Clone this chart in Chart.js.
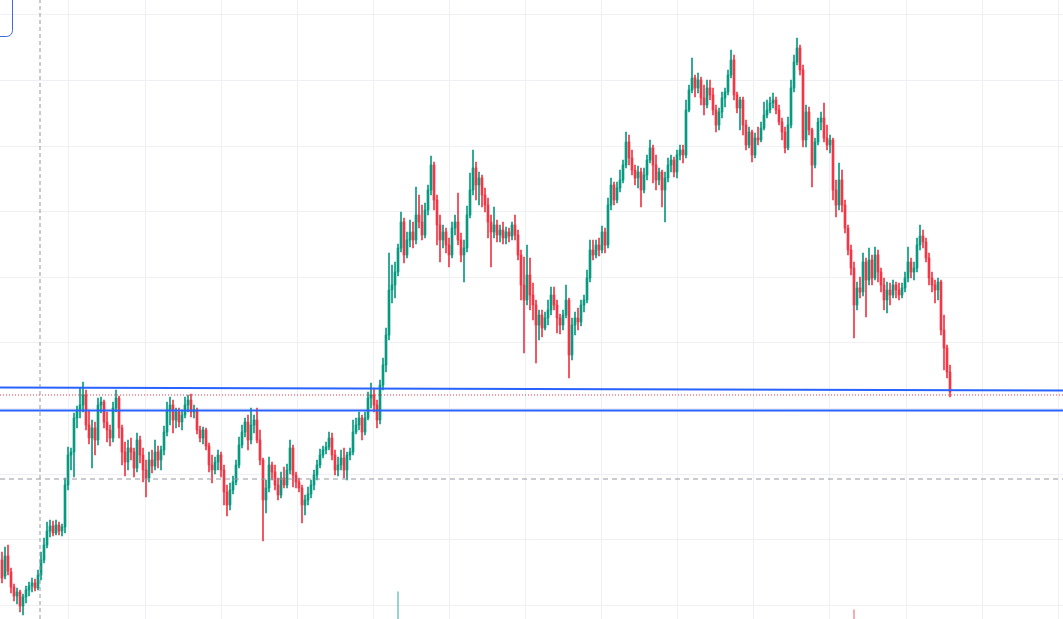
<!DOCTYPE html>
<html><head><meta charset="utf-8">
<script src="https://cdn.jsdelivr.net/npm/chart.js@4.4.1/dist/chart.umd.min.js"></script>
<style>html,body{margin:0;padding:0;background:#fff;overflow:hidden}#wrap{width:1063px;height:619px;position:relative}</style>
</head><body><div id="wrap"><canvas id="c"></canvas></div>
<script>
const open=[6.0,4.4,6.4,4.8,3.3,2.4,2.8,1.4,2.3,3.0,3.4,3.7,3.2,4.5,6.0,7.5,8.9,9.4,8.7,9.5,8.9,9.3,13.5,16.5,16.8,20.2,21.0,21.5,22.5,19.5,18.2,19.2,18.0,21.5,21.8,19.8,19.0,18.2,21.2,22.2,19.2,16.8,15.8,17.2,16.8,15.2,18.0,16.5,15.0,14.2,16.0,15.4,16.8,16.0,17.0,18.8,21.0,21.5,20.0,20.8,19.8,20.5,21.5,22.0,20.8,21.0,19.0,18.2,19.0,17.4,15.5,15.0,15.8,16.5,15.0,12.8,11.5,13.0,13.8,15.5,17.5,18.8,19.8,18.0,19.5,20.0,18.0,16.0,12.0,13.2,15.5,14.8,13.5,12.5,14.2,13.5,15.0,17.2,14.5,13.8,13.2,11.5,12.0,12.6,13.5,14.5,15.5,16.5,17.0,17.3,18.2,16.5,15.0,15.5,16.2,15.0,16.5,16.8,18.8,19.5,20.2,18.8,20.2,22.2,22.5,21.5,20.0,23.5,25.5,28.5,33.0,33.5,34.8,37.2,39.8,36.5,38.0,38.8,38.0,40.5,39.8,38.5,41.0,43.0,45.5,42.0,39.5,38.0,38.8,37.5,36.5,39.2,39.8,38.0,36.5,37.2,40.5,43.0,45.2,43.5,44.2,42.5,41.5,39.8,38.8,39.5,38.5,39.0,38.2,38.8,38.4,39.5,38.5,36.5,33.5,32.0,34.5,32.5,31.5,29.5,30.5,29.2,30.2,31.0,32.5,31.5,30.2,29.5,30.5,32.0,26.5,29.5,30.2,29.8,31.5,32.0,34.2,37.0,36.5,37.5,37.0,38.8,37.5,41.5,43.5,42.0,43.2,44.0,45.5,47.8,46.2,45.0,44.2,44.8,43.0,44.5,46.0,47.2,45.5,44.0,44.8,43.0,44.2,45.5,46.0,44.8,46.5,47.0,46.5,51.0,53.0,54.2,53.2,54.0,52.2,51.5,53.2,52.5,51.0,49.5,50.8,52.2,52.8,54.5,56.0,52.5,51.2,52.0,49.5,47.5,48.8,46.5,48.2,48.0,49.2,50.5,51.0,51.7,52.0,51.0,49.8,48.8,47.2,49.5,53.2,55.8,57.2,55.0,48.0,50.8,49.0,45.5,47.8,49.8,50.2,48.2,47.5,48.0,43.0,41.5,44.0,41.5,39.2,37.0,35.2,31.5,33.2,32.8,35.8,34.0,36.0,34.2,36.5,34.8,33.5,32.0,33.0,32.5,33.5,33.0,32.5,33.2,34.2,35.8,34.8,35.2,37.5,38.4,37.8,36.2,34.2,33.5,33.0,33.8,29.0,27.2,24.8];
const close=[4.2,6.4,4.9,3.3,2.4,2.8,1.4,2.3,3.0,3.4,3.7,3.2,4.5,6.0,7.5,8.9,9.4,8.7,9.5,8.9,9.3,13.5,16.5,16.8,20.2,21.0,21.5,22.5,19.5,18.2,19.2,18.0,21.5,21.8,19.8,19.0,18.2,21.2,22.2,19.2,16.8,15.8,17.2,16.8,15.2,18.0,16.5,15.0,14.2,16.0,15.4,16.8,16.0,17.0,18.8,21.0,21.5,20.0,20.8,19.8,20.5,21.5,22.0,20.8,21.0,19.0,18.2,19.0,17.4,15.5,15.0,15.8,16.5,15.0,12.8,11.5,13.0,13.8,15.5,17.5,18.8,19.8,18.0,19.5,20.0,18.0,16.0,12.0,13.2,15.5,14.8,13.5,12.5,14.2,13.5,15.0,17.2,14.5,13.8,13.2,11.5,12.0,12.6,13.5,14.5,15.5,16.5,17.0,17.3,18.2,16.5,15.0,15.5,16.2,15.0,16.5,16.8,18.8,19.5,20.2,18.8,20.2,22.2,22.5,21.5,20.0,23.5,25.5,28.5,33.0,33.5,34.8,37.2,39.8,36.5,38.0,38.8,38.0,40.5,39.8,38.5,41.0,43.0,45.5,42.0,39.5,38.0,38.8,37.5,36.5,39.2,39.8,38.0,36.5,37.2,40.5,43.0,45.2,43.5,44.2,42.5,41.5,39.8,38.8,39.5,38.5,39.0,38.2,38.8,38.4,39.5,38.5,36.5,33.5,32.0,34.5,32.5,31.5,29.5,30.5,29.2,30.2,31.0,32.5,31.5,30.2,29.5,30.5,32.0,26.5,29.5,30.2,29.8,31.5,32.0,34.2,37.0,36.5,37.5,37.0,38.8,37.5,41.5,43.5,42.0,43.2,44.0,45.5,47.8,46.2,45.0,44.2,44.8,43.0,44.5,46.0,47.2,45.5,44.0,44.8,43.0,44.2,45.5,46.0,44.8,46.5,47.0,46.5,51.0,53.0,54.2,53.2,54.0,52.2,51.5,53.2,52.5,51.0,49.5,50.8,52.2,52.8,54.5,56.0,52.5,51.2,52.0,49.5,47.5,48.8,46.5,48.2,48.0,49.2,50.5,51.0,51.7,52.0,51.0,49.8,48.8,47.2,49.5,53.2,55.8,57.2,55.0,48.0,50.8,49.0,45.5,47.8,49.8,50.2,48.2,47.5,48.0,43.0,41.5,44.0,41.5,39.2,37.0,35.2,31.5,33.2,32.8,35.8,34.0,36.0,34.2,36.5,34.8,33.5,32.0,33.0,32.5,33.5,33.0,32.5,33.2,34.2,35.8,34.8,35.2,37.5,38.4,37.8,36.2,34.2,33.5,33.0,33.8,29.0,27.2,24.8,22.8];
const high=[6.8,7.3,7.5,5.2,3.6,3.2,3.0,2.6,3.4,3.8,4.2,4.1,5.0,6.8,8.2,9.8,10.0,9.9,10.0,9.8,9.6,14.2,17.3,17.2,20.7,21.4,23.2,23.8,23.0,21.0,20.0,19.8,22.2,22.3,22.0,20.8,19.5,21.8,23.0,22.4,19.5,17.8,18.0,18.2,17.2,18.7,18.4,17.2,16.0,16.8,17.0,18.0,17.4,17.4,19.4,21.8,22.3,22.0,21.2,21.2,21.0,22.3,22.5,22.6,21.5,21.2,19.4,19.3,19.2,17.7,16.5,16.3,17.0,16.8,15.5,13.5,13.7,14.4,16.0,18.3,19.5,20.2,20.5,21.2,20.5,21.2,19.0,16.2,14.0,16.3,15.8,15.5,14.2,14.8,15.3,15.6,18.0,17.5,14.8,14.2,13.5,12.5,13.3,14.0,15.0,16.0,17.1,17.4,17.8,18.8,18.7,17.0,16.3,17.0,17.2,16.8,17.2,20.0,20.2,20.8,20.5,20.8,22.8,23.7,23.2,22.0,24.0,26.2,29.2,36.7,35.5,35.8,37.6,40.8,40.2,38.8,40.0,39.8,43.3,42.5,41.5,41.7,43.5,46.4,45.8,42.5,40.5,39.5,39.2,38.2,39.8,40.5,42.7,38.7,38.0,41.4,44.7,47.0,45.8,44.8,44.5,43.2,42.2,40.5,41.3,40.0,39.5,39.8,39.3,39.2,39.8,40.5,39.0,37.0,36.3,37.5,36.2,33.7,32.0,31.0,31.0,30.8,32.0,33.3,33.3,32.0,30.6,31.0,33.5,32.2,30.2,30.8,31.2,32.0,32.5,35.0,38.0,38.0,38.0,38.2,39.4,39.2,42.2,44.2,43.8,43.8,45.0,46.0,48.8,48.5,47.0,45.5,45.4,45.2,45.2,46.5,48.0,47.5,46.5,45.2,45.0,44.8,46.2,46.5,46.3,47.0,47.5,47.5,52.0,53.5,56.2,54.5,54.7,54.3,53.5,54.0,54.0,53.2,51.5,51.2,52.8,53.2,55.0,57.0,56.5,52.8,52.3,52.3,50.0,49.3,49.0,48.7,49.3,49.8,51.8,52.0,52.3,52.7,52.3,51.5,50.2,49.3,50.3,54.0,56.5,58.2,57.5,55.5,51.5,51.3,49.2,48.2,50.2,50.8,51.7,49.5,48.5,48.2,44.0,45.7,45.0,42.0,39.5,37.5,35.8,33.8,34.3,36.7,36.2,37.2,36.5,37.3,37.0,35.2,34.2,33.8,33.7,34.0,33.8,33.7,33.7,34.8,37.3,36.2,35.8,38.2,39.5,39.0,38.2,36.7,34.8,34.0,34.2,34.0,30.5,27.5,25.5];
const low=[3.7,4.1,4.5,2.7,1.9,1.6,0.8,0.5,1.7,2.4,2.8,2.9,3.0,4.0,5.7,7.2,8.3,8.4,8.5,8.5,8.4,8.7,13.0,15.0,14.3,19.2,20.2,20.8,19.0,17.6,15.2,16.5,17.5,20.7,19.2,17.8,17.4,17.8,20.8,18.2,15.5,14.4,15.0,16.0,14.3,14.8,15.7,13.8,12.3,13.8,14.7,15.0,15.2,15.0,16.5,18.4,19.5,18.7,19.2,19.3,19.0,20.2,20.8,20.3,20.2,18.6,17.8,17.6,17.0,14.8,13.7,14.6,15.0,14.3,11.5,10.4,11.0,12.6,13.5,15.2,17.2,18.3,17.0,17.6,18.7,17.7,15.5,7.9,10.7,12.8,14.0,13.0,12.0,12.2,13.2,13.2,14.6,13.3,13.2,12.8,9.7,10.5,11.5,12.2,13.0,14.0,15.2,16.2,16.6,17.0,16.0,14.5,14.4,15.0,14.2,14.0,16.0,16.5,18.6,19.0,18.0,18.5,20.0,21.2,20.8,19.2,19.6,23.0,24.8,28.0,31.7,32.2,34.4,36.8,35.7,36.2,37.3,37.2,37.6,39.2,38.0,38.2,40.5,42.5,41.0,37.5,35.8,37.2,36.7,35.3,36.2,38.5,37.5,35.8,33.8,36.8,40.2,42.5,42.0,41.5,41.3,40.8,38.2,35.3,38.2,37.8,37.8,37.6,37.6,37.8,38.0,38.0,36.0,32.0,26.7,31.5,31.0,30.0,25.7,28.0,28.3,29.0,29.5,30.5,31.0,28.7,28.6,29.0,30.2,24.2,26.0,28.5,29.0,29.4,30.8,31.7,33.8,36.0,36.2,36.4,36.7,36.7,37.2,41.0,41.5,41.7,42.8,43.7,45.2,45.5,44.5,43.5,43.2,41.3,42.7,44.0,45.7,43.7,43.0,43.5,41.3,39.8,43.8,44.8,44.3,44.2,46.0,45.7,46.2,50.8,52.7,52.3,52.7,51.5,50.5,51.2,52.0,50.5,48.8,49.0,50.2,51.3,52.5,54.2,52.0,50.7,49.0,48.5,47.0,47.2,45.8,46.2,47.5,47.8,49.0,50.2,50.7,51.2,50.6,49.5,48.0,46.7,47.0,49.2,52.8,55.5,54.5,47.3,47.3,48.5,43.3,45.2,47.5,49.0,47.8,47.0,46.7,42.0,40.3,41.0,40.8,38.7,36.5,34.5,28.2,31.0,32.2,32.4,30.3,33.5,33.5,34.0,33.8,32.8,31.0,30.7,31.5,32.2,32.2,32.0,32.2,32.8,33.8,34.2,34.0,34.8,37.0,37.2,35.8,33.5,32.8,31.7,32.0,28.5,25.0,24.2,22.3];

// horizontal grid prices and vertical grid positions (bar index units)
const gridPrices=[60.6,54.0,47.4,40.9,34.3,27.8,21.2,14.6,8.1,1.5];
const gridBars=[22.33,47.7,73.07,98.43,123.8,149.17,174.53,199.9,225.27,250.63,276.0,301.37,326.73,352.1];
// drawings
const trendUpper=[23.25,22.95];   // price at left edge, right edge
const trendLower=[20.95,20.95];
const lastPriceLevel=22.5;
const dashedLevel=14.1;
const markerBar=12.67;
// volume (only the tallest bars reach into view)
const volIdx=[132,284];
const volVal=[4.4,1.5];
// visible range
const xMin=-0.667, xMax=353.667, yMin=0.1, yMax=62.0;

const UP='#089981', DOWN='#f23645';
const cols=open.map((o,i)=>close[i]>=o?UP:DOWN);
const wicks=open.map((o,i)=>({x:i,y:[low[i],high[i]]}));
const bodies=open.map((o,i)=>({x:i,y:[o,close[i]]}));
const vols=volIdx.map((ix,k)=>({x:ix,y:volVal[k]}));
const volCols=volIdx.map(ix=>close[ix]>=open[ix]?'rgba(8,153,129,0.5)':'rgba(242,54,69,0.5)');

const boxPlugin={id:'box',afterDraw(chart){const ctx=chart.ctx;ctx.save();ctx.strokeStyle='#4169e1';ctx.lineWidth=1;ctx.beginPath();if(ctx.roundRect){ctx.roundRect(-20.5,-10.5,33,47,6);}else{ctx.rect(-20.5,-10.5,33,47);}ctx.stroke();ctx.restore();}};

new Chart(document.getElementById('c'),{
  type:'bar',
  data:{datasets:[
    {type:'line',data:[{x:xMin,y:trendUpper[0]},{x:xMax,y:trendUpper[1]}],borderColor:'#2962ff',borderWidth:2,pointRadius:0,order:0},
    {type:'line',data:[{x:xMin,y:trendLower[0]},{x:xMax,y:trendLower[1]}],borderColor:'#2962ff',borderWidth:2,pointRadius:0,order:0},
    {type:'line',data:[{x:xMin,y:lastPriceLevel},{x:xMax,y:lastPriceLevel}],borderColor:'#f23645',borderWidth:1,borderDash:[1,2],pointRadius:0,order:1},
    {type:'line',data:[{x:xMin,y:dashedLevel},{x:xMax,y:dashedLevel}],borderColor:'#9598a1',borderWidth:1,borderDash:[5,4],pointRadius:0,order:1},
    {type:'line',data:[{x:markerBar,y:yMin},{x:markerBar,y:yMax}],borderColor:'#9598a1',borderWidth:1,borderDash:[4,3],pointRadius:0,order:1},
    {data:bodies,backgroundColor:cols,barThickness:2,minBarLength:1,grouped:false,borderWidth:0,order:2},
    {data:wicks,backgroundColor:cols,barThickness:1,grouped:false,borderWidth:0,order:3},
    {data:vols,yAxisID:'yv',backgroundColor:volCols,barThickness:1,grouped:false,borderWidth:0,order:4}
  ]},
  options:{
    responsive:true,maintainAspectRatio:false,animation:false,events:[],
    layout:{padding:0},
    plugins:{legend:{display:false},tooltip:{enabled:false}},
    scales:{
      x:{type:'linear',min:xMin,max:xMax,offset:false,
         grid:{offset:false,color:'#eef0f4',drawTicks:false,lineWidth:1},
         ticks:{display:false},border:{display:false},
         afterBuildTicks:s=>{s.ticks=gridBars.map(v=>({value:v}));}},
      y:{type:'linear',min:yMin,max:yMax,
         grid:{color:'#eef0f4',drawTicks:false,lineWidth:1},
         ticks:{display:false},border:{display:false},
         afterBuildTicks:s=>{s.ticks=gridPrices.map(v=>({value:v}));}},
      yv:{type:'linear',display:false,min:0,max:100}
    }
  },
  plugins:[boxPlugin]
});
</script></body></html>
